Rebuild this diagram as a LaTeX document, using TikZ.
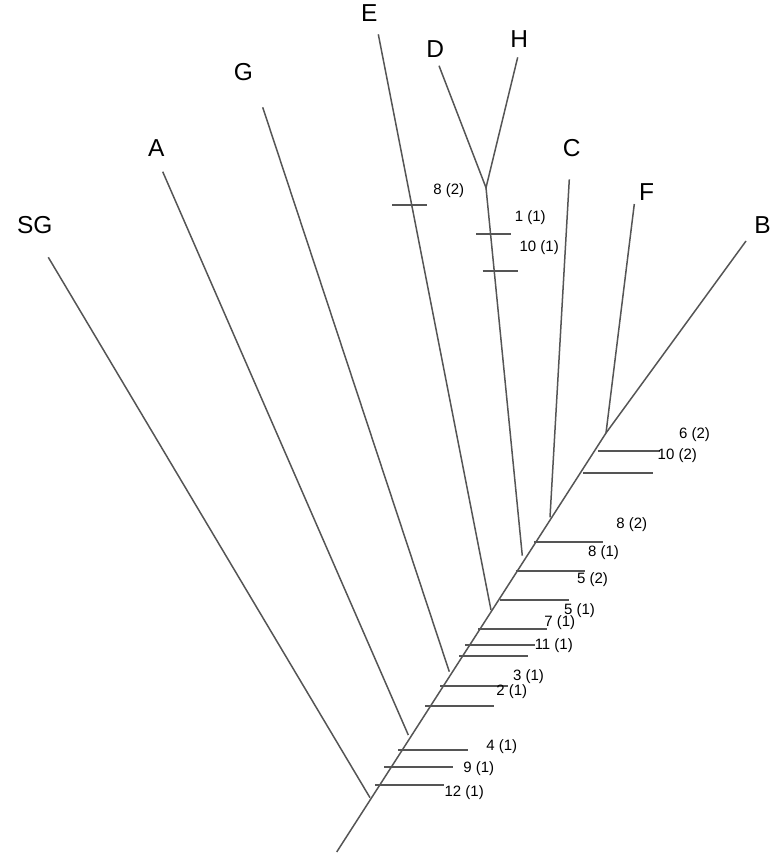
\documentclass[tikz,border=0pt]{standalone}
\usepackage{fontspec}
\setmainfont{Liberation Sans}
\definecolor{ln}{RGB}{85,85,85}
\tikzset{
  branch/.style={draw=ln, line width=1.5pt},
  tickmark/.style={draw=ln, line width=1.6pt},
  leaf/.style={font=\fontsize{24.5}{28}\selectfont, inner sep=0pt, text=black},
  tlab/.style={font=\fontsize{15}{18}\selectfont, inner sep=0pt, text=black}
}
\begin{document}
\begin{tikzpicture}[x=1pt,y=-1pt]
\useasboundingbox (0,0) rectangle (778,865);
% junctions and tips
\coordinate (root) at (336.7,852);
\coordinate (jSG) at (370,797.7);   \coordinate (tSG) at (48.3,257.3);
\coordinate (jA) at (408.3,735);    \coordinate (tA) at (162.7,171.7);
\coordinate (jG) at (449.3,671.7);  \coordinate (tG) at (262.7,107.3);
\coordinate (jE) at (491,610);      \coordinate (tE) at (378.3,34.3);
\coordinate (jDH) at (522.3,555.7); \coordinate (fDH) at (486,187.7);
\coordinate (tD) at (439,65.7);     \coordinate (tH) at (517.7,57.3);
\coordinate (jC) at (550,517.3);    \coordinate (tC) at (569.3,179.3);
\coordinate (jF) at (606,433);      \coordinate (tF) at (634.3,204);
\coordinate (tB) at (746,241);
% trunk and branches
\draw[branch] (root) -- (jF) -- (tB);
\draw[branch] (jSG) -- (tSG);
\draw[branch] (jA) -- (tA);
\draw[branch] (jG) -- (tG);
\draw[branch] (jE) -- (tE);
\draw[branch] (jDH) -- (fDH);
\draw[branch] (tD) -- (fDH) -- (tH);
\draw[branch] (jC) -- (tC);
\draw[branch] (jF) -- (tF);
% leaf labels
\node[leaf] (lSG) at (34.7,225.3) {SG};
\node[leaf] (lA) at (156.3,148.2) {A};
\node[leaf] (lG) at (243.3,72.2) {G};
\node[leaf] (lE) at (369.2,13.3) {E};
\node[leaf] (lD) at (435.3,49.2) {D};
\node[leaf] (lH) at (519.3,38.8) {H};
\node[leaf] (lC) at (571.7,147.8) {C};
\node[leaf] (lF) at (646.7,192.5) {F};
\node[leaf] (lB) at (762.5,225) {B};
% tick marks on trunk
\draw[tickmark] (375,785) -- (444,785);
\draw[tickmark] (384,767) -- (453.3,767);
\draw[tickmark] (398.3,750) -- (467.7,750);
\draw[tickmark] (425,706) -- (494,706);
\draw[tickmark] (440,686) -- (508.3,686);
\draw[tickmark] (459,656) -- (528.3,656);
\draw[tickmark] (465,645) -- (535,645);
\draw[tickmark] (478.3,629) -- (547.3,629);
\draw[tickmark] (500,600) -- (569.3,600);
\draw[tickmark] (515.7,571) -- (585,571);
\draw[tickmark] (534.3,542) -- (603.3,542);
\draw[tickmark] (583.3,473) -- (652.7,473);
\draw[tickmark] (597.5,451) -- (660,451);
% tick marks on branches
\draw[tickmark] (392.3,205) -- (427.3,205);
\draw[tickmark] (476,234) -- (511,234);
\draw[tickmark] (482.7,271) -- (517.7,271);
% tick labels
\node[tlab] (k12) at (464.2,792.7) {12 (1)};
\node[tlab] (k9) at (478.8,769) {9 (1)};
\node[tlab] (k4) at (501.7,747) {4 (1)};
\node[tlab] (k2) at (511.8,692) {2 (1)};
\node[tlab] (k3) at (528.5,676.3) {3 (1)};
\node[tlab] (k11) at (553.8,645.3) {11 (1)};
\node[tlab] (k7) at (559.7,623) {7 (1)};
\node[tlab] (k51) at (579.5,610.7) {5 (1)};
\node[tlab] (k52) at (592.5,580) {5 (2)};
\node[tlab] (k81) at (603.5,552.7) {8 (1)};
\node[tlab] (k82) at (631.7,525) {8 (2)};
\node[tlab] (k102) at (677.3,456) {10 (2)};
\node[tlab] (k62) at (694.5,435) {6 (2)};
\node[tlab] (kE82) at (448.8,190.3) {8 (2)};
\node[tlab] (k11b) at (530.2,217.3) {1 (1)};
\node[tlab] (k101) at (539.2,247.7) {10 (1)};
\end{tikzpicture}
\end{document}
